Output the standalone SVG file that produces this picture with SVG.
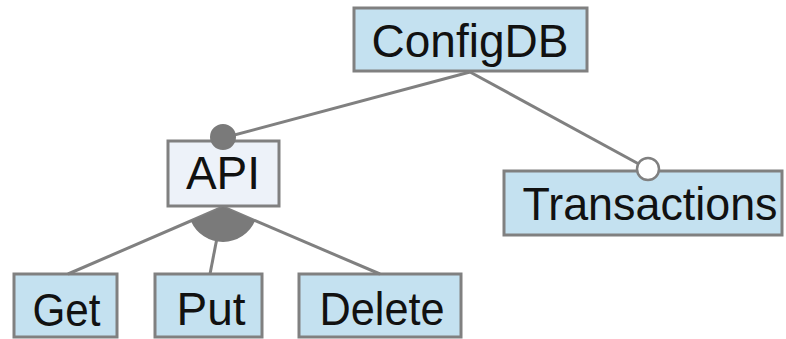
<svg xmlns="http://www.w3.org/2000/svg" width="786" height="339" viewBox="0 0 786 339">
  <style>
    .box { fill: #c4e1f0; stroke: #808080; stroke-width: 3; }
    .box.abstract { fill: #edf2f9; }
    .label { font-family: "Liberation Sans", Arial, sans-serif; font-size: 46px; fill: #111; text-anchor: middle; }
    .edge { stroke: #808080; stroke-width: 3; fill: none; }
    .mandatory { fill: #7a7a7a; stroke: #7a7a7a; stroke-width: 2; }
    .optional { fill: #ffffff; stroke: #808080; stroke-width: 2.5; }
    .orgroup { fill: #7a7a7a; }
  </style>
  <rect width="786" height="339" fill="#ffffff"/>

  <g id="ConfigDB">
    <rect class="box" x="354" y="8" width="233" height="63"/>
    <text class="label" x="470" y="57">ConfigDB</text>
  </g>

  <g id="API">
    <rect class="box abstract" x="168" y="141" width="111" height="65"/>
    <text class="label" x="223" y="189">API</text>
  </g>

  <g id="Transactions">
    <rect class="box" x="504" y="171" width="278" height="64"/>
    <text class="label" x="650" y="220" textLength="255" lengthAdjust="spacingAndGlyphs">Transactions</text>
  </g>

  <g id="Get">
    <rect class="box" x="14" y="274" width="103" height="63"/>
    <text class="label" x="66.5" y="326" textLength="68" lengthAdjust="spacingAndGlyphs">Get</text>
  </g>

  <g id="Put">
    <rect class="box" x="155" y="274" width="107" height="63"/>
    <text class="label" x="211" y="325">Put</text>
  </g>

  <g id="Delete">
    <rect class="box" x="299" y="274" width="162" height="63"/>
    <text class="label" x="382" y="325" textLength="125" lengthAdjust="spacingAndGlyphs">Delete</text>
  </g>

  <!-- connectors, drawn last so the end decorations sit over the box borders -->
  <g id="connectors">
    <line class="edge" x1="470" y1="72" x2="223" y2="138"/>
    <line class="edge" x1="470" y1="72" x2="648" y2="169"/>
    <line class="edge" x1="223" y1="207" x2="68" y2="274"/>
    <line class="edge" x1="223" y1="207" x2="210" y2="274"/>
    <line class="edge" x1="223" y1="207" x2="380" y2="274"/>
    <!-- or-group arc between the outer child edges -->
    <path class="orgroup" d="M223,207 L190.9,220.9 A35,35 0 0 0 255.2,220.6 Z"/>
    <!-- mandatory / optional decorations -->
    <circle class="mandatory" cx="223" cy="137" r="12"/>
    <circle class="optional" cx="648" cy="169" r="11"/>
  </g>
</svg>
